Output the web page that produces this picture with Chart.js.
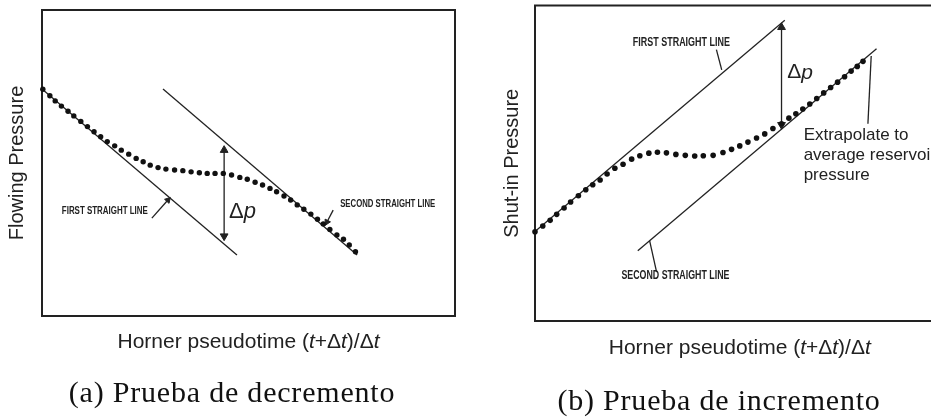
<!DOCTYPE html>
<html lang="es">
<head>
<meta charset="UTF-8">
<title>Prueba de decremento / Prueba de incremento</title>
<script src="https://cdn.jsdelivr.net/npm/chart.js"></script>
<style>
    html, body { margin: 0; padding: 0; background: #fff; }
    body { width: 931px; height: 419px; overflow: hidden; position: relative; }
    .panel { position: absolute; top: 0; }
    #panelA { left: 0; }
    #panelB { left: 470px; }
    .caption {
        position: absolute;
        font-family: "Liberation Serif", "Times New Roman", serif;
        font-size: 30px;
        line-height: 30px;
        letter-spacing: 0.8px;
        color: #111;
        white-space: nowrap;
        transform: translateX(-50%);
    }
</style>
</head>
<body>
    <canvas id="panelA" class="panel" width="470" height="419"></canvas>
    <canvas id="panelB" class="panel" width="480" height="419"></canvas>
    <div class="caption" style="left:232px; top:377px;">(a) Prueba de decremento</div>
    <div class="caption" style="left:719px; top:385px;">(b) Prueba de incremento</div>

<script>
// ---- (a) drawdown: data in relative units, 0..100 on both axes ----
const decX = [0.2, 1.9, 3.2, 4.7, 6.3, 7.7, 9.4, 11.0, 12.6, 14.2, 15.8, 17.6, 19.2, 21.0, 22.8,
              24.5, 26.2, 28.1, 30.0, 32.1, 34.1, 36.1, 38.1, 40.0, 41.9, 43.9, 45.9, 47.9, 49.7,
              51.6, 53.4, 55.2, 56.8, 58.6, 60.2, 61.8, 63.4, 65.1, 66.7, 68.1, 69.7, 71.4, 73.0,
              74.4, 75.9];
const decY = [74.1, 72.0, 70.3, 68.6, 66.9, 65.4, 63.6, 61.9, 60.2, 58.6, 57.0, 55.6, 54.2, 52.9, 51.5,
              50.4, 49.3, 48.5, 48.0, 47.7, 47.5, 47.1, 46.8, 46.6, 46.6, 46.6, 46.1, 45.3, 44.7,
              43.7, 42.8, 41.7, 40.6, 39.2, 37.9, 36.3, 34.9, 33.3, 31.6, 30.1, 28.3, 26.5, 25.1,
              23.2, 21.0];
const decFirstX = [0, 47.2],     decFirstY = [74.2, 19.9];
const decSecondX = [29.3, 76.3], decSecondY = [74.2, 19.9];
const decDeltaX = [44.1, 44.1],  decDeltaY = [54.2, 26.1];
const decLabelText = ['FIRST STRAIGHT LINE', 'SECOND STRAIGHT LINE'];
const decLabelX = [4.8, 72.2], decLabelY = [34.3, 36.6];
const decArrow1X = [26.6, 30.5], decArrow1Y = [32.0, 37.9];
const decArrow2X = [70.5, 69.0], decArrow2Y = [34.6, 30.7];
const decDpX = 45.3, decDpY = 34.0;

// ---- (b) buildup ----
const incX = [0.0, 1.9, 3.7, 5.3, 7.1, 8.7, 10.6, 12.4, 14.1, 15.9, 17.6, 19.5, 21.5, 23.6, 25.6,
              27.8, 29.9, 32.1, 34.4, 36.7, 39.0, 41.1, 43.5, 45.9, 48.0, 50.0, 52.0, 54.1, 56.1,
              58.1, 60.2, 62.0, 63.7, 65.4, 67.1, 68.8, 70.5, 72.2, 73.9, 75.6, 77.2, 78.7, 80.1];
const incY = [28.3, 30.1, 31.9, 33.8, 35.8, 37.7, 39.7, 41.6, 43.2, 44.7, 46.6, 48.4, 49.7, 51.3, 52.4,
              53.2, 53.5, 53.3, 52.8, 52.5, 52.3, 52.4, 52.5, 53.4, 54.4, 55.5, 56.7, 58.0, 59.3,
              61.0, 62.5, 64.3, 65.7, 67.2, 68.8, 70.5, 72.3, 74.0, 75.7, 77.4, 79.2, 80.7, 82.3];
const incFirstX = [0, 61.0],      incFirstY = [28.4, 95.3];
const incSecondX = [25.1, 83.4],  incSecondY = [22.3, 86.3];
const incDeltaX = [60.2, 60.2],   incDeltaY = [93.1, 62.2];
const incLabelText = ['FIRST STRAIGHT LINE', 'SECOND STRAIGHT LINE'];
const incLabelX = [23.9, 21.1], incLabelY = [88.3, 14.4];
const incLeader1X = [44.3, 45.6], incLeader1Y = [86.0, 79.6];
const incLeader2X = [28.0, 29.7], incLeader2Y = [25.4, 15.5];
const incLeader3X = [82.1, 81.3], incLeader3Y = [84.0, 62.5];
const incNoteText = ['Extrapolate to', 'average reservoir', 'pressure'];
const incNoteX = 65.6, incNoteY = [58.8, 52.4, 46.3];
const incDpX = 61.6, incDpY = 78.7;

const xTitleParts = [['Horner pseudotime (', false], ['t', true], ['+\u0394', false], ['t', true], [')/\u0394', false], ['t', true]];
const dpParts = [['\u0394', false], ['p', true]];

const INK = '#222';
const SANS = '"Liberation Sans", Arial, sans-serif';

function pts(xs, ys) {
    return xs.map((x, i) => ({ x: x, y: ys[i] }));
}

function segment(xs, ys, extra) {
    return Object.assign({
        data: pts(xs, ys),
        showLine: true,
        borderColor: INK,
        borderWidth: 1.3,
        pointRadius: 0,
        clip: false
    }, extra || {});
}

function arrowSeg(xs, ys, radii, rotations) {
    return segment(xs, ys, {
        pointStyle: 'triangle',
        pointRadius: radii,
        pointRotation: rotations,
        pointBackgroundColor: INK,
        pointBorderColor: INK,
        pointBorderWidth: 1
    });
}

function richText(ctx, parts, x, y, size, align) {
    let w = 0;
    parts.forEach(p => {
        ctx.font = (p[1] ? 'italic ' : '') + size + 'px ' + SANS;
        w += ctx.measureText(p[0]).width;
    });
    let cx = align === 'center' ? x - w / 2 : x;
    ctx.textAlign = 'left';
    parts.forEach(p => {
        ctx.font = (p[1] ? 'italic ' : '') + size + 'px ' + SANS;
        ctx.fillText(p[0], cx, y);
        cx += ctx.measureText(p[0]).width;
    });
}

// frame box + axis titles + text notes
const notesPlugin = {
    id: 'notes',
    beforeDatasetsDraw(chart) {
        const { ctx, chartArea: a } = chart;
        ctx.save();
        ctx.strokeStyle = INK;
        ctx.lineWidth = 2;
        ctx.strokeRect(a.left, a.top, a.right - a.left, a.bottom - a.top);
        ctx.restore();
    },
    afterDraw(chart, args, opts) {
        const { ctx, chartArea: a, scales } = chart;
        const sx = scales.x, sy = scales.y;
        ctx.save();
        ctx.fillStyle = INK;
        ctx.textBaseline = 'middle';

        richText(ctx, xTitleParts, (a.left + a.right) / 2, a.bottom + opts.xGap, 21, 'center');

        ctx.save();
        ctx.translate(a.left - opts.yGap, (a.top + a.bottom) / 2);
        ctx.rotate(-Math.PI / 2);
        richText(ctx, [[opts.yTitle, false]], 0, 0, 20, 'center');
        ctx.restore();

        opts.labels.forEach(l => {
            const px = sx.getPixelForValue(l.x), py = sy.getPixelForValue(l.y);
            if (l.parts) {
                richText(ctx, l.parts, px, py, l.size, 'left');
            } else {
                ctx.font = (l.bold ? 'bold ' : '') + l.size + 'px ' + SANS;
                ctx.textAlign = 'left';
                if (l.width) ctx.fillText(l.text, px, py, l.width);
                else ctx.fillText(l.text, px, py);
            }
        });
        ctx.restore();
    }
};

function makeChart(id, datasets, pad, notes) {
    return new Chart(document.getElementById(id), {
        type: 'scatter',
        data: { datasets: datasets },
        options: {
            responsive: false,
            animation: false,
            events: [],
            layout: { padding: pad },
            scales: {
                x: { type: 'linear', min: 0, max: 100, display: false },
                y: { type: 'linear', min: 0, max: 100, display: false }
            },
            plugins: {
                legend: { display: false },
                tooltip: { enabled: false },
                notes: notes
            }
        },
        plugins: [notesPlugin]
    });
}

const dotStyle = {
    showLine: false,
    pointRadius: 2.7,
    pointBackgroundColor: '#111',
    pointBorderWidth: 0,
    clip: false
};

makeChart('panelA', [
    Object.assign({ data: pts(decX, decY) }, dotStyle),
    segment(decFirstX, decFirstY),
    segment(decSecondX, decSecondY),
    arrowSeg(decDeltaX, decDeltaY, [4.5, 4.5], [0, 180]),
    arrowSeg(decArrow1X, decArrow1Y, [0, 3.5], [0, 42]),
    arrowSeg(decArrow2X, decArrow2Y, [0, 3.5], [0, 207])
], { left: 42, top: 10, right: 15, bottom: 103 }, {
    yTitle: 'Flowing Pressure',
    xGap: 26,
    yGap: 25,
    labels: [
        { text: decLabelText[0], x: decLabelX[0], y: decLabelY[0], size: 11, width: 86, bold: true },
        { text: decLabelText[1], x: decLabelX[1], y: decLabelY[1], size: 11, width: 95, bold: true },
        { parts: dpParts, x: decDpX, y: decDpY, size: 22 }
    ]
});

makeChart('panelB', [
    Object.assign({ data: pts(incX, incY) }, dotStyle, { pointRadius: 2.8 }),
    segment(incFirstX, incFirstY),
    segment(incSecondX, incSecondY),
    arrowSeg(incDeltaX, incDeltaY, [4.5, 4.5], [0, 180]),
    segment(incLeader1X, incLeader1Y),
    segment(incLeader2X, incLeader2Y),
    segment(incLeader3X, incLeader3Y)
], { left: 65, top: 2, right: 5, bottom: 98 }, {
    yTitle: 'Shut-in Pressure',
    xGap: 27,
    yGap: 23,
    labels: [
        { text: incLabelText[0], x: incLabelX[0], y: incLabelY[0], size: 12, width: 97, bold: true },
        { text: incLabelText[1], x: incLabelX[1], y: incLabelY[1], size: 12, width: 108, bold: true },
        { parts: dpParts, x: incDpX, y: incDpY, size: 21 },
        { text: incNoteText[0], x: incNoteX, y: incNoteY[0], size: 17 },
        { text: incNoteText[1], x: incNoteX, y: incNoteY[1], size: 17 },
        { text: incNoteText[2], x: incNoteX, y: incNoteY[2], size: 17 }
    ]
});
</script>
</body>
</html>
